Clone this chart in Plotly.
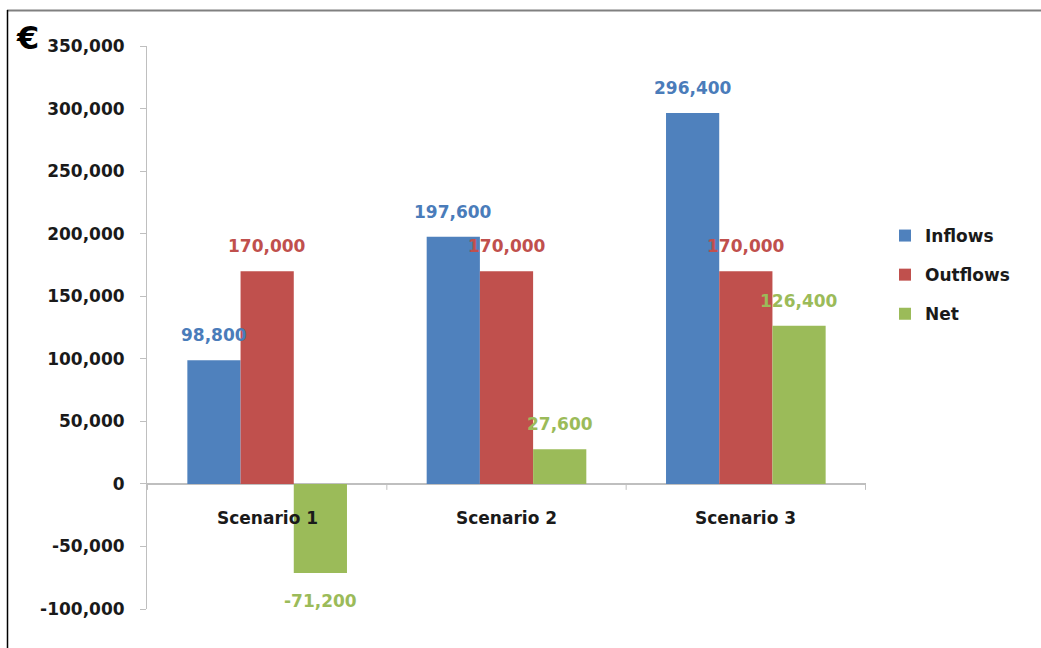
import plotly.graph_objects as go

categories = ["Scenario 1", "Scenario 2", "Scenario 3"]
inflows = [98800, 197600, 296400]
outflows = [170000, 170000, 170000]
net = [-71200, 27600, 126400]
series_names = ["Inflows", "Outflows", "Net"]
series_values = [inflows, outflows, net]
bar_colors = ["#4F81BD", "#C0504D", "#9BBB59"]
label_colors = ["#4A7CBA", "#C0504D", "#9BBB59"]
y_tickvals = [-100000, -50000, 0, 50000, 100000, 150000, 200000, 250000, 300000, 350000]
y_ticktext = [f"{v:,}" for v in y_tickvals]

W, H = 1041, 648
L, R, T, B = 147, 175, 46, 39
plot_w = W - L - R
plot_h = H - T - B
bargap = 0.333
FONT = "DejaVu Sans"

fig = go.Figure()
for i, (name, vals) in enumerate(zip(series_names, series_values)):
    fig.add_trace(go.Bar(
        x=categories, y=vals, name=name,
        marker=dict(color=bar_colors[i], line=dict(width=0)),
        legendgroup=name,
    ))

cat_px = plot_w / len(categories)
bar_px = cat_px * (1 - bargap) / len(series_names)
annotations = []
for i, vals in enumerate(series_values):
    for c, v in zip(categories, vals):
        annotations.append(dict(
            x=c, y=v, xref="x", yref="y",
            text=f"{v:,}", showarrow=False,
            xshift=(i - (len(series_names) - 1) / 2) * bar_px,
            yshift=25 if v >= 0 else -28,
            font=dict(family=FONT, size=17, color=label_colors[i], weight="bold"),
        ))
for c in categories:
    annotations.append(dict(
        x=c, y=0, xref="x", yref="y", text=f"<b>{c}</b>", showarrow=False,
        yshift=-34, font=dict(family=FONT, size=17, color="#1a1a1a"),
    ))
annotations.append(dict(
    x=(14 - L) / plot_w, y=(H - B - 17) / plot_h, xref="paper", yref="paper",
    text="<b>€</b>", showarrow=False,
    font=dict(family=FONT, size=32, color="#000000"),
))

shapes = []
for k in range(len(categories) + 1):
    shapes.append(dict(
        type="line", xref="x", yref="y", x0=k - 0.5, x1=k - 0.5,
        ysizemode="pixel", yanchor=0, y0=0, y1=-6,
        line=dict(color="#BFBFBF", width=1),
    ))
# frame
shapes.append(dict(type="line", xref="paper", yref="paper",
                   x0=(7 - L) / plot_w, x1=(W - L) / plot_w,
                   y0=(H - B - 10.5) / plot_h, y1=(H - B - 10.5) / plot_h,
                   line=dict(color="#808080", width=2)))
shapes.append(dict(type="line", xref="paper", yref="paper",
                   x0=(7.5 - L) / plot_w, x1=(7.5 - L) / plot_w,
                   y0=(H - B - 10) / plot_h, y1=(H - B - H - 5) / plot_h,
                   line=dict(color="#000000", width=1.5)))

fig.update_layout(
    width=W, height=H,
    margin=dict(l=L, r=R, t=T, b=B, pad=0),
    plot_bgcolor="white", paper_bgcolor="white",
    barmode="group", bargap=bargap, bargroupgap=0,
    font=dict(family=FONT, size=17, color="#1a1a1a"),
    xaxis=dict(showticklabels=False, showgrid=False, zeroline=False,
               showline=False, ticks=""),
    yaxis=dict(range=[-100000, 350000], tickvals=y_tickvals, ticktext=y_ticktext,
               showgrid=False,
               zeroline=True, zerolinecolor="#BFBFBF", zerolinewidth=1.5,
               showline=True, linecolor="#BFBFBF", linewidth=1,
               ticks="outside", ticklen=6, tickcolor="#BFBFBF",
               ticklabelstandoff=12,
               tickfont=dict(family=FONT, size=17, color="#1a1a1a", weight="bold")),
    legend=dict(x=(885 - L) / plot_w, xanchor="left",
                y=(H - B - 218) / plot_h, yanchor="top",
                font=dict(family=FONT, size=17, color="#1a1a1a", weight="bold"),
                tracegroupgap=14, itemwidth=30, traceorder="grouped"),
    annotations=annotations,
    shapes=shapes,
    showlegend=True,
)
fig.write_html("out.html")
